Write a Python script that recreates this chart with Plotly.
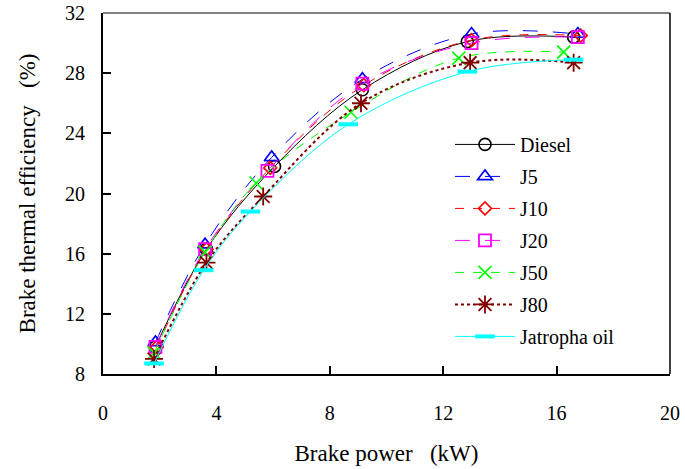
import plotly.graph_objects as go

series_names = ["Diesel", "J5", "J10", "J20", "J50", "J80", "Jatropha oil"]
x_diesel = [1.85, 3.65, 6.05, 9.15, 12.85, 16.6]
y_diesel = [9.8, 16.3, 21.8, 26.9, 30.1, 30.4]
x_j5 = [1.85, 3.6, 5.95, 9.15, 13.0, 16.75]
y_j5 = [10.1, 16.6, 22.4, 27.6, 30.6, 30.6]
x_j10 = [1.9, 3.65, 5.9, 9.2, 13.0, 16.85]
y_j10 = [9.8, 16.3, 21.7, 27.2, 30.2, 30.5]
x_j20 = [1.85, 3.6, 5.8, 9.15, 13.0, 16.75]
y_j20 = [9.8, 16.3, 21.5, 27.3, 30.0, 30.4]
x_j50 = [1.8, 3.6, 5.4, 8.75, 12.55, 16.25]
y_j50 = [9.4, 16.1, 20.7, 25.4, 29.0, 29.4]
x_j80 = [1.8, 3.65, 5.65, 9.1, 12.95, 16.6]
y_j80 = [9.0, 15.4, 19.8, 26.0, 28.7, 28.7]
x_jat = [1.8, 3.55, 5.2, 8.65, 12.85, 16.6]
y_jat = [8.7, 14.9, 18.8, 24.6, 28.1, 28.9]

x_ticks = [0, 4, 8, 12, 16, 20]
y_ticks = [8, 12, 16, 20, 24, 28, 32]

xs = [x_diesel, x_j5, x_j10, x_j20, x_j50, x_j80, x_jat]
ys = [y_diesel, y_j5, y_j10, y_j20, y_j50, y_j80, y_jat]
colors = ["#000000", "#0000ff", "#ff0000", "#ff00ff", "#00ff00", "#800000", "#00ffff"]
dashes = ["solid", "longdash", "dash", "longdash", "dash", "dot", "solid"]
widths = [1, 1, 1, 1, 1, 2, 1]
symbols = ["circle-open", "triangle-up-open", "diamond-open", "square-open",
           "x-thin-open", "asterisk-open", "line-ew-open"]
sizes = [12, 13, 10, 12, 13, 15, 14]
mlw = [1.6, 1.6, 1.6, 1.8, 1.6, 1.8, 4]

fam = "Times New Roman, Liberation Serif, serif"

fig = go.Figure()
for i, name in enumerate(series_names):
    fig.add_trace(go.Scatter(
        x=xs[i], y=ys[i], name=name, mode="lines+markers",
        line=dict(color=colors[i], dash=dashes[i], width=widths[i], shape="spline", smoothing=1.0),
        marker=dict(symbol=symbols[i], size=sizes[i], color=colors[i],
                    line=dict(color=colors[i], width=mlw[i])),
        legendgroup=name,
    ))

fig.update_layout(
    width=685, height=469,
    margin=dict(l=103, r=15, t=13, b=95),
    paper_bgcolor="white", plot_bgcolor="white",
    font=dict(family=fam, size=20, color="black"),
    showlegend=True,
    legend=dict(x=0.612, y=0.69, xanchor="left", yanchor="top",
                bgcolor="rgba(0,0,0,0)", font=dict(family=fam, size=20, color="black"),
                tracegroupgap=3, traceorder="grouped", itemwidth=60),
    xaxis=dict(range=[0, 20], tickvals=x_ticks, ticks="inside", ticklen=8,
               tickwidth=1.5, tickcolor="black", showgrid=False, zeroline=False,
               showline=True, linecolor="black", linewidth=2, mirror=False,
               ticklabelstandoff=20, automargin=False, ticklabeloverflow="allow",
               tickfont=dict(family=fam, size=20, color="black"),
               title=dict(text="Brake power\u00a0\u00a0 (kW)", font=dict(family=fam, size=23), standoff=22)),
    yaxis=dict(range=[8, 32], tickvals=y_ticks, ticks="inside", ticklen=8,
               tickwidth=1.5, tickcolor="black", showgrid=False, zeroline=False,
               showline=True, linecolor="black", linewidth=2, mirror=False,
               ticklabelstandoff=12, automargin=False, ticklabeloverflow="allow",
               tickfont=dict(family=fam, size=20, color="black"),
               title=dict(text="Brake thermal efficiency\u00a0\u00a0 (%)", font=dict(family=fam, size=23), standoff=23)),
    shapes=[
        dict(type="line", xref="paper", yref="paper", x0=0, x1=1, y0=1, y1=1,
             line=dict(color="#808080", width=2)),
        dict(type="line", xref="paper", yref="paper", x0=1, x1=1, y0=0, y1=1,
             line=dict(color="black", width=1.5)),
    ],
)

fig.write_html("out.html", config={"displayModeBar": False},
               post_script="document.body.style.margin='0px';document.body.style.overflow='hidden';")
